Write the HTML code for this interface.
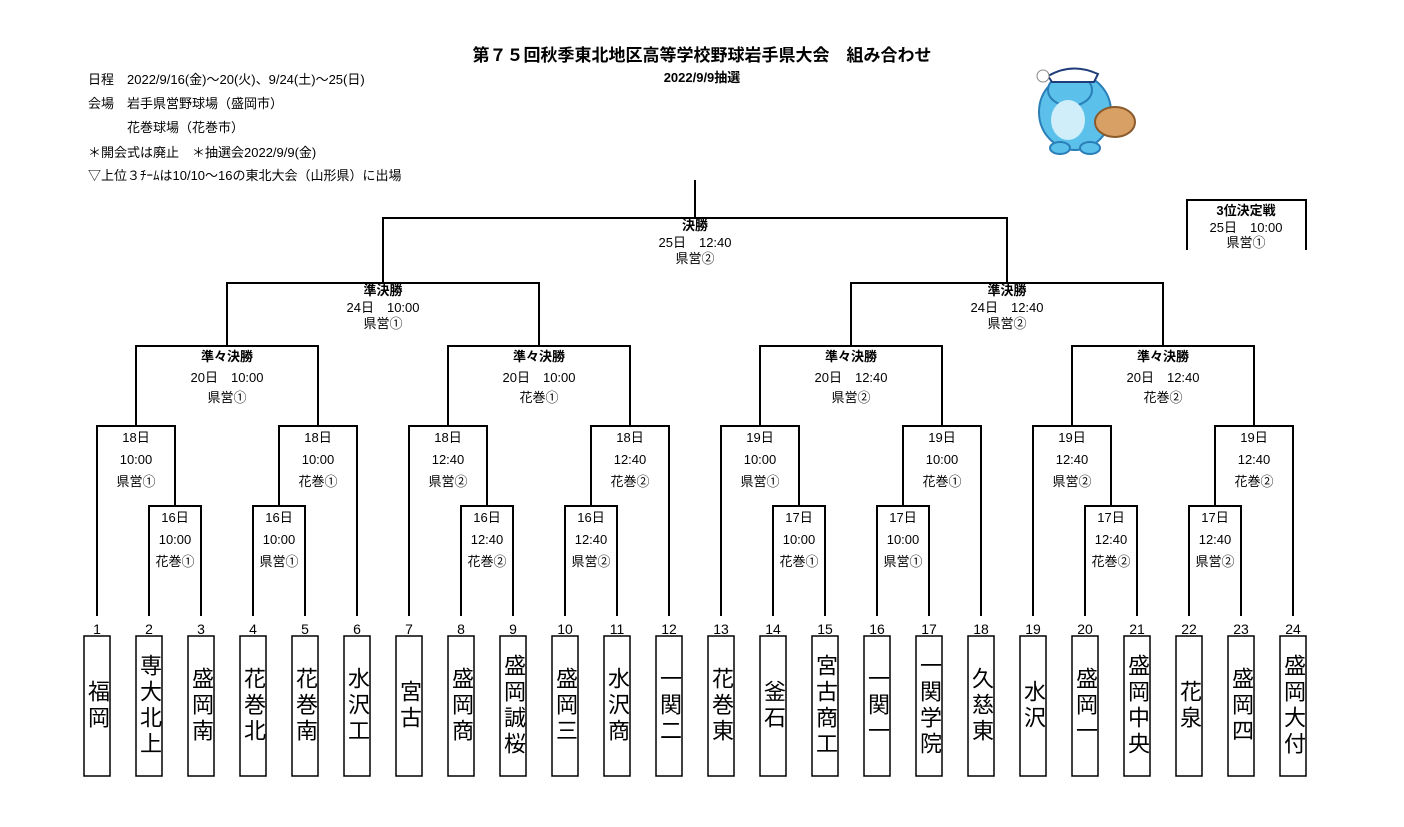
<!DOCTYPE html>
<html><head><meta charset="utf-8"><style>
body{margin:0;background:#fff;}
#w{position:relative;width:1404px;height:827px;overflow:hidden;font-family:"Liberation Sans","Noto Sans CJK JP",sans-serif;color:#000;}
svg{position:absolute;left:0;top:0;}
svg text{font-family:"Liberation Sans","Noto Sans CJK JP",sans-serif;font-size:13px;text-anchor:middle;}
svg .n{font-size:14px;}
.info{position:absolute;left:88px;font-size:13px;white-space:pre;}
.tm{position:absolute;top:636px;width:26px;height:140px;display:flex;align-items:center;justify-content:center;}
.tm span{writing-mode:vertical-rl;font-size:22px;letter-spacing:4px;line-height:26px;}
</style></head><body><div id="w">
<svg width="1404" height="827" viewBox="0 0 1404 827">
<text x="702" y="61" style="font-size:17px;font-weight:bold">第７５回秋季東北地区高等学校野球岩手県大会　組み合わせ</text>
<text x="702" y="82" style="font-size:13px;font-weight:bold">2022/9/9抽選</text>
<g fill="none" stroke="#000" stroke-width="2">
<path d="M149 616V506H201V616M253 616V506H305V616M461 616V506H513V616M565 616V506H617V616M773 616V506H825V616M877 616V506H929V616M1085 616V506H1137V616M1189 616V506H1241V616"/>
<path d="M97 616V426H175V506M279 506V426H357V616M409 616V426H487V506M591 506V426H669V616M721 616V426H799V506M903 506V426H981V616M1033 616V426H1111V506M1215 506V426H1293V616"/>
<path d="M136 426V346H318V426M448 426V346H630V426M760 426V346H942V426M1072 426V346H1254V426"/>
<path d="M227 346V283H539V346M851 346V283H1163V346M383 283V218H1007V283M695 218V180M1187 250V200H1306V250"/>
<g stroke-width="1.5">
<rect x="84" y="636" width="26" height="140"/><rect x="136" y="636" width="26" height="140"/><rect x="188" y="636" width="26" height="140"/><rect x="240" y="636" width="26" height="140"/><rect x="292" y="636" width="26" height="140"/><rect x="344" y="636" width="26" height="140"/><rect x="396" y="636" width="26" height="140"/><rect x="448" y="636" width="26" height="140"/><rect x="500" y="636" width="26" height="140"/><rect x="552" y="636" width="26" height="140"/><rect x="604" y="636" width="26" height="140"/><rect x="656" y="636" width="26" height="140"/><rect x="708" y="636" width="26" height="140"/><rect x="760" y="636" width="26" height="140"/><rect x="812" y="636" width="26" height="140"/><rect x="864" y="636" width="26" height="140"/><rect x="916" y="636" width="26" height="140"/><rect x="968" y="636" width="26" height="140"/><rect x="1020" y="636" width="26" height="140"/><rect x="1072" y="636" width="26" height="140"/><rect x="1124" y="636" width="26" height="140"/><rect x="1176" y="636" width="26" height="140"/><rect x="1228" y="636" width="26" height="140"/><rect x="1280" y="636" width="26" height="140"/>
</g></g>
<g class="n">
<text class="n" x="97" y="634">1</text><text class="n" x="149" y="634">2</text><text class="n" x="201" y="634">3</text><text class="n" x="253" y="634">4</text><text class="n" x="305" y="634">5</text><text class="n" x="357" y="634">6</text><text class="n" x="409" y="634">7</text><text class="n" x="461" y="634">8</text><text class="n" x="513" y="634">9</text><text class="n" x="565" y="634">10</text><text class="n" x="617" y="634">11</text><text class="n" x="669" y="634">12</text><text class="n" x="721" y="634">13</text><text class="n" x="773" y="634">14</text><text class="n" x="825" y="634">15</text><text class="n" x="877" y="634">16</text><text class="n" x="929" y="634">17</text><text class="n" x="981" y="634">18</text><text class="n" x="1033" y="634">19</text><text class="n" x="1085" y="634">20</text><text class="n" x="1137" y="634">21</text><text class="n" x="1189" y="634">22</text><text class="n" x="1241" y="634">23</text><text class="n" x="1293" y="634">24</text>
</g>
<g>
<text x="175" y="522">16日</text><text x="175" y="544">10:00</text><text x="175" y="566">花巻①</text>
<text x="279" y="522">16日</text><text x="279" y="544">10:00</text><text x="279" y="566">県営①</text>
<text x="487" y="522">16日</text><text x="487" y="544">12:40</text><text x="487" y="566">花巻②</text>
<text x="591" y="522">16日</text><text x="591" y="544">12:40</text><text x="591" y="566">県営②</text>
<text x="799" y="522">17日</text><text x="799" y="544">10:00</text><text x="799" y="566">花巻①</text>
<text x="903" y="522">17日</text><text x="903" y="544">10:00</text><text x="903" y="566">県営①</text>
<text x="1111" y="522">17日</text><text x="1111" y="544">12:40</text><text x="1111" y="566">花巻②</text>
<text x="1215" y="522">17日</text><text x="1215" y="544">12:40</text><text x="1215" y="566">県営②</text>

<text x="136" y="442">18日</text><text x="136" y="464">10:00</text><text x="136" y="486">県営①</text>
<text x="318" y="442">18日</text><text x="318" y="464">10:00</text><text x="318" y="486">花巻①</text>
<text x="448" y="442">18日</text><text x="448" y="464">12:40</text><text x="448" y="486">県営②</text>
<text x="630" y="442">18日</text><text x="630" y="464">12:40</text><text x="630" y="486">花巻②</text>
<text x="760" y="442">19日</text><text x="760" y="464">10:00</text><text x="760" y="486">県営①</text>
<text x="942" y="442">19日</text><text x="942" y="464">10:00</text><text x="942" y="486">花巻①</text>
<text x="1072" y="442">19日</text><text x="1072" y="464">12:40</text><text x="1072" y="486">県営②</text>
<text x="1254" y="442">19日</text><text x="1254" y="464">12:40</text><text x="1254" y="486">花巻②</text>

<text x="227" y="361" font-weight="bold">準々決勝</text><text x="227" y="382">20日　10:00</text><text x="227" y="402">県営①</text>
<text x="539" y="361" font-weight="bold">準々決勝</text><text x="539" y="382">20日　10:00</text><text x="539" y="402">花巻①</text>
<text x="851" y="361" font-weight="bold">準々決勝</text><text x="851" y="382">20日　12:40</text><text x="851" y="402">県営②</text>
<text x="1163" y="361" font-weight="bold">準々決勝</text><text x="1163" y="382">20日　12:40</text><text x="1163" y="402">花巻②</text>

<text x="383" y="295" font-weight="bold">準決勝</text><text x="383" y="312">24日　10:00</text><text x="383" y="328">県営①</text>
<text x="1007" y="295" font-weight="bold">準決勝</text><text x="1007" y="312">24日　12:40</text><text x="1007" y="328">県営②</text>
<text x="695" y="230" font-weight="bold">決勝</text><text x="695" y="247">25日　12:40</text><text x="695" y="263">県営②</text>
<text x="1246" y="215" font-weight="bold">3位決定戦</text><text x="1246" y="232">25日　10:00</text><text x="1246" y="247">県営①</text>
</g>
<g>
<ellipse cx="1075" cy="112" rx="36" ry="38" fill="#5bc0ea" stroke="#2a7fb8" stroke-width="2"/>
<ellipse cx="1070" cy="90" rx="22" ry="16" fill="#5bc0ea" stroke="#2a7fb8" stroke-width="2"/>
<path d="M1048 76 Q1072 62 1098 74 L1094 82 L1052 82Z" fill="#fff" stroke="#1f3d7a" stroke-width="2"/>
<ellipse cx="1068" cy="120" rx="17" ry="20" fill="#cfeefa"/>
<ellipse cx="1115" cy="122" rx="20" ry="15" fill="#d9a066" stroke="#8a5a2b" stroke-width="2"/>
<circle cx="1043" cy="76" r="6" fill="#fff" stroke="#888"/>
<ellipse cx="1060" cy="148" rx="10" ry="6" fill="#5bc0ea" stroke="#2a7fb8" stroke-width="2"/>
<ellipse cx="1090" cy="148" rx="10" ry="6" fill="#5bc0ea" stroke="#2a7fb8" stroke-width="2"/>
</g>
</svg>
<div class="info" style="top:69px">日程　2022/9/16(金)～20(火)、9/24(土)～25(日)</div>
<div class="info" style="top:93px">会場　岩手県営野球場（盛岡市）</div>
<div class="info" style="top:117px">　　　花巻球場（花巻市）</div>
<div class="info" style="top:142px">＊開会式は廃止　＊抽選会2022/9/9(金)</div>
<div class="info" style="top:165px">▽上位３ﾁｰﾑは10/10～16の東北大会（山形県）に出場</div>
<div class="tm" style="left:84px"><span>福岡</span></div>
<div class="tm" style="left:136px"><span>専大北上</span></div>
<div class="tm" style="left:188px"><span>盛岡南</span></div>
<div class="tm" style="left:240px"><span>花巻北</span></div>
<div class="tm" style="left:292px"><span>花巻南</span></div>
<div class="tm" style="left:344px"><span>水沢工</span></div>
<div class="tm" style="left:396px"><span>宮古</span></div>
<div class="tm" style="left:448px"><span>盛岡商</span></div>
<div class="tm" style="left:500px"><span>盛岡誠桜</span></div>
<div class="tm" style="left:552px"><span>盛岡三</span></div>
<div class="tm" style="left:604px"><span>水沢商</span></div>
<div class="tm" style="left:656px"><span>一関二</span></div>
<div class="tm" style="left:708px"><span>花巻東</span></div>
<div class="tm" style="left:760px"><span>釜石</span></div>
<div class="tm" style="left:812px"><span>宮古商工</span></div>
<div class="tm" style="left:864px"><span>一関一</span></div>
<div class="tm" style="left:916px"><span>一関学院</span></div>
<div class="tm" style="left:968px"><span>久慈東</span></div>
<div class="tm" style="left:1020px"><span>水沢</span></div>
<div class="tm" style="left:1072px"><span>盛岡一</span></div>
<div class="tm" style="left:1124px"><span>盛岡中央</span></div>
<div class="tm" style="left:1176px"><span>花泉</span></div>
<div class="tm" style="left:1228px"><span>盛岡四</span></div>
<div class="tm" style="left:1280px"><span>盛岡大付</span></div>
</div></body></html>
